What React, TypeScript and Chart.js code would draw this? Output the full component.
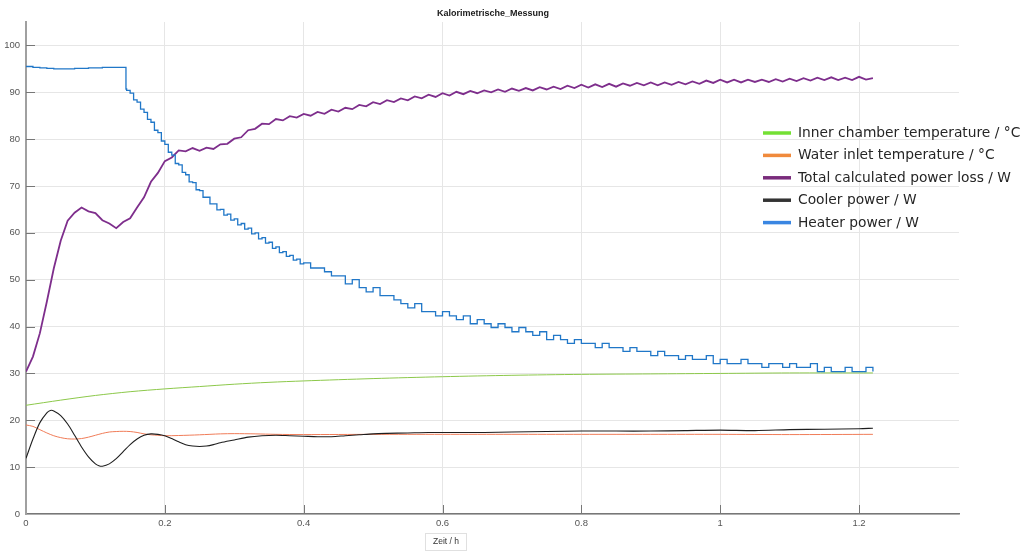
import React, { useEffect, useRef } from 'react';
import { Chart, registerables } from 'chart.js';

Chart.register(...registerables);

const chartTitle = 'Kalorimetrische_Messung';
const xAxisLabel = 'Zeit / h';

const seriesLabels = [
  'Inner chamber temperature / °C',
  'Water inlet temperature / °C',
  'Total calculated power loss / W',
  'Cooler power / W',
  'Heater power / W',
];
const lineColors = ['#8cc84a', '#f07c58', '#7e2e8c', '#1e1e1e', '#2077c8'];
const legendColors = ['#74e034', '#f08a3c', '#7a2c7c', '#333333', '#3a86e2'];

const xTicks = [0, 0.2, 0.4, 0.6, 0.8, 1, 1.2];
const yTicks = [0, 10, 20, 30, 40, 50, 60, 70, 80, 90, 100];

// Inner chamber temperature
const innerT = [0, 0.05, 0.1, 0.15, 0.2, 0.25, 0.3, 0.35, 0.4, 0.5, 0.6, 0.7, 0.8, 0.9, 1.0, 1.1, 1.22];
const innerV = [23.2, 24.3, 25.3, 26.1, 26.7, 27.2, 27.7, 28.1, 28.4, 28.9, 29.3, 29.6, 29.8, 29.9, 30.0, 30.1, 30.1];

// Water inlet temperature
const waterT = [0, 0.01, 0.02, 0.03, 0.04, 0.05, 0.06, 0.07, 0.08, 0.09, 0.1, 0.11, 0.12, 0.13, 0.14, 0.15, 0.16, 0.17, 0.18, 0.19, 0.2, 0.22, 0.25, 0.28, 0.3, 0.33, 0.36, 0.4, 0.5, 0.6, 0.7, 0.8, 0.9, 1.0, 1.1, 1.22];
const waterV = [19.0, 18.7, 18.0, 17.3, 16.7, 16.3, 16.05, 16.0, 16.1, 16.4, 16.8, 17.2, 17.5, 17.6, 17.65, 17.6, 17.4, 17.1, 16.9, 16.8, 16.7, 16.75, 16.9, 17.1, 17.15, 17.1, 17.0, 16.95, 17.0, 17.0, 17.0, 17.0, 17.0, 17.0, 16.95, 17.0];

// Cooler power
const coolerT = [0, 0.01, 0.02, 0.03, 0.035, 0.04, 0.05, 0.06, 0.07, 0.08, 0.09, 0.1, 0.105, 0.11, 0.12, 0.13, 0.14, 0.15, 0.16, 0.17, 0.18, 0.19, 0.2, 0.21, 0.22, 0.23, 0.24, 0.25, 0.26, 0.27, 0.28, 0.3, 0.32, 0.34, 0.36, 0.38, 0.4, 0.42, 0.44, 0.46, 0.48, 0.5, 0.52, 0.55, 0.58, 0.62, 0.66, 0.7, 0.75, 0.8, 0.85, 0.9, 0.95, 1.0, 1.05, 1.1, 1.15, 1.2, 1.22];
const coolerV = [11.9, 16.0, 19.5, 21.6, 22.1, 22.0, 21.0, 19.2, 16.8, 14.3, 12.2, 10.7, 10.3, 10.2, 10.7, 11.8, 13.3, 14.8, 16.0, 16.8, 17.1, 17.0, 16.7, 16.1, 15.4, 14.8, 14.5, 14.4, 14.5, 14.8, 15.2, 15.8, 16.4, 16.7, 16.8, 16.7, 16.6, 16.5, 16.5, 16.7, 16.9, 17.1, 17.2, 17.3, 17.4, 17.4, 17.4, 17.5, 17.6, 17.7, 17.7, 17.7, 17.8, 17.9, 17.8, 18.0, 18.1, 18.2, 18.3];

// Total calculated power loss
const lossT = [0, 0.01, 0.02, 0.03, 0.04, 0.05, 0.06, 0.07, 0.08, 0.09, 0.1, 0.11, 0.12, 0.13, 0.14, 0.15, 0.16, 0.17, 0.18, 0.19, 0.2, 0.21, 0.22, 0.23, 0.24, 0.25, 0.26, 0.27, 0.28, 0.29, 0.3, 0.31, 0.32, 0.33, 0.34, 0.35, 0.36, 0.37, 0.38, 0.39, 0.4, 0.41, 0.42, 0.43, 0.44, 0.45, 0.46, 0.47, 0.48, 0.49, 0.5, 0.51, 0.52, 0.53, 0.54, 0.55, 0.56, 0.57, 0.58, 0.59, 0.6, 0.61, 0.62, 0.63, 0.64, 0.65, 0.66, 0.67, 0.68, 0.69, 0.7, 0.71, 0.72, 0.73, 0.74, 0.75, 0.76, 0.77, 0.78, 0.79, 0.8, 0.81, 0.82, 0.83, 0.84, 0.85, 0.86, 0.87, 0.88, 0.89, 0.9, 0.91, 0.92, 0.93, 0.94, 0.95, 0.96, 0.97, 0.98, 0.99, 1.0, 1.01, 1.02, 1.03, 1.04, 1.05, 1.06, 1.07, 1.08, 1.09, 1.1, 1.11, 1.12, 1.13, 1.14, 1.15, 1.16, 1.17, 1.18, 1.19, 1.2, 1.21, 1.22];
const lossV = [30.4, 33.6, 38.6, 45.3, 52.4, 58.3, 62.6, 64.3, 65.4, 64.6, 64.2, 62.7, 62.0, 61.0, 62.3, 63.1, 65.4, 67.6, 70.9, 72.8, 75.3, 76.1, 77.6, 77.4, 78.1, 77.5, 78.2, 77.9, 78.9, 79.0, 80.1, 80.4, 81.9, 82.2, 83.3, 83.2, 84.3, 84.0, 84.9, 84.6, 85.4, 85.0, 85.8, 85.4, 86.3, 85.9, 86.7, 86.4, 87.3, 87.0, 87.9, 87.5, 88.3, 87.9, 88.7, 88.3, 89.1, 88.7, 89.5, 89.0, 89.8, 89.3, 90.1, 89.6, 90.3, 89.8, 90.4, 90.0, 90.6, 90.1, 90.8, 90.3, 90.9, 90.4, 91.1, 90.6, 91.2, 90.7, 91.4, 90.9, 91.6, 91.0, 91.7, 91.1, 91.8, 91.2, 91.9, 91.4, 92.0, 91.5, 92.1, 91.5, 92.1, 91.6, 92.2, 91.7, 92.3, 91.8, 92.5, 92.0, 92.7, 92.1, 92.7, 92.1, 92.7, 92.2, 92.7, 92.2, 92.8, 92.3, 92.9, 92.4, 93.0, 92.5, 93.1, 92.6, 93.2, 92.6, 93.1, 92.6, 93.3, 92.7, 93.0];

// Heater power
const heaterT = [
  0, 0.01, 0.02, 0.03, 0.04, 0.05, 0.06, 0.07, 0.08, 0.09, 0.1, 0.11, 0.12, 0.13, 0.14, 0.143, 0.144,
  0.145, 0.15, 0.155, 0.16, 0.165, 0.17, 0.175, 0.18, 0.185, 0.19, 0.195, 0.2, 0.205, 0.21, 0.215, 0.22, 0.225, 0.23, 0.235, 0.24, 0.245, 0.25,
  0.255, 0.26, 0.265, 0.27, 0.275, 0.28, 0.285, 0.29, 0.295, 0.3, 0.305, 0.31, 0.315, 0.32, 0.325, 0.33, 0.335, 0.34, 0.345, 0.35,
  0.355, 0.36, 0.365, 0.37, 0.375, 0.38, 0.385, 0.39, 0.395, 0.4,
  0.41, 0.42, 0.43, 0.44, 0.45, 0.46, 0.47, 0.48, 0.49, 0.5, 0.51, 0.52, 0.53, 0.54, 0.55, 0.56, 0.57, 0.58, 0.59, 0.6,
  0.61, 0.62, 0.63, 0.64, 0.65, 0.66, 0.67, 0.68, 0.69, 0.7, 0.71, 0.72, 0.73, 0.74, 0.75, 0.76, 0.77, 0.78, 0.79, 0.8,
  0.81, 0.82, 0.83, 0.84, 0.85, 0.86, 0.87, 0.88, 0.89, 0.9, 0.91, 0.92, 0.93, 0.94, 0.95, 0.96, 0.97, 0.98, 0.99, 1.0,
  1.01, 1.02, 1.03, 1.04, 1.05, 1.06, 1.07, 1.08, 1.09, 1.1, 1.11, 1.12, 1.13, 1.14, 1.15, 1.16, 1.17, 1.18, 1.19, 1.2, 1.21, 1.22,
];
const heaterV = [
  95.5, 95.3, 95.2, 95.1, 95.0, 95.0, 95.0, 95.1, 95.1, 95.2, 95.2, 95.3, 95.3, 95.3, 95.3, 95.3, 90.7,
  90.4, 89.8, 88.4, 87.9, 86.4, 85.7, 84.2, 83.6, 81.9, 81.4, 79.6, 78.9, 77.2, 76.6, 74.8, 74.5, 72.9, 72.4, 70.9, 70.7, 69.2, 69.0,
  67.6, 67.6, 66.2, 66.2, 64.9, 65.0, 63.8, 64.0, 62.7, 63.0, 61.7, 62.0, 60.8, 61.0, 59.8, 60.0, 58.7, 59.0, 57.8, 58.0,
  56.7, 57.0, 55.8, 56.0, 55.0, 55.2, 54.2, 54.4, 53.4, 53.6,
  52.5, 52.5, 51.7, 50.8, 50.8, 49.1, 50.0, 48.3, 47.4, 48.3, 46.6, 46.6, 45.7, 44.9, 44.0, 44.9, 43.2, 43.2, 42.3, 43.2,
  42.3, 41.5, 42.3, 40.6, 41.5, 40.6, 39.8, 40.6, 39.8, 38.9, 39.8, 38.9, 38.1, 38.9, 37.2, 38.1, 37.2, 36.4, 37.2, 36.4,
  36.4, 35.5, 36.4, 35.5, 35.5, 34.7, 35.5, 34.7, 34.7, 33.8, 34.7, 33.8, 33.8, 33.0, 33.8, 33.0, 33.0, 33.8, 32.1, 33.0,
  32.1, 32.1, 33.0, 32.1, 32.1, 31.3, 32.1, 32.1, 31.3, 32.1, 31.3, 31.3, 32.1, 30.4, 31.3, 30.4, 30.4, 31.3, 30.4, 30.4, 31.3, 30.4,
];

const toPoints = (t: number[], v: number[]) => t.map((x, i) => ({ x, y: v[i] }));

const TICK_FONT = { family: '"Liberation Sans", Arial, sans-serif', size: 9.5 };

const overlayPlugin = {
  id: 'overlay',
  afterDraw(chart: any) {
    const { ctx, chartArea, scales } = chart;
    ctx.save();
    // inner tick marks
    ctx.strokeStyle = '#777';
    ctx.lineWidth = 1;
    scales.y.ticks.forEach((t: any) => {
      if (t.value === 0) return;
      const py = Math.round(scales.y.getPixelForValue(t.value)) + 0.5;
      ctx.beginPath();
      ctx.moveTo(chartArea.left, py);
      ctx.lineTo(chartArea.left + 9, py);
      ctx.stroke();
    });
    scales.x.ticks.forEach((t: any) => {
      if (t.value === 0) return;
      const px = Math.round(scales.x.getPixelForValue(t.value)) + 0.5;
      ctx.beginPath();
      ctx.moveTo(px, chartArea.bottom);
      ctx.lineTo(px, chartArea.bottom - 9);
      ctx.stroke();
    });
    // title
    ctx.fillStyle = '#1a1a1a';
    ctx.font = 'bold 9px "Liberation Sans", Arial, sans-serif';
    ctx.textAlign = 'center';
    ctx.textBaseline = 'middle';
    ctx.fillText(chartTitle, 493, 14);
    // x axis label box
    ctx.fillStyle = '#ffffff';
    ctx.fillRect(425.5, 533.5, 41, 17);
    ctx.strokeStyle = '#e0e0e0';
    ctx.strokeRect(425.5, 533.5, 41, 17);
    ctx.fillStyle = '#333';
    ctx.font = '8.5px "Liberation Sans", Arial, sans-serif';
    ctx.fillText(xAxisLabel, 446, 542);
    // legend
    ctx.textAlign = 'left';
    ctx.font = '13.8px "DejaVu Sans", Verdana, sans-serif';
    chart.data.datasets.forEach((ds: any, i: number) => {
      const y = 133 + i * 22.4;
      ctx.strokeStyle = legendColors[i];
      ctx.lineWidth = 3.5;
      ctx.beginPath();
      ctx.moveTo(763, y);
      ctx.lineTo(791, y);
      ctx.stroke();
      ctx.fillStyle = '#262626';
      ctx.fillText(ds.label, 798, y + 0.5);
    });
    ctx.restore();
  },
};

export default function App() {
  const ref = useRef<HTMLCanvasElement>(null);
  useEffect(() => {
    document.body.style.margin = '0';
    const canvas = ref.current!;
    const series = [
      toPoints(innerT, innerV),
      toPoints(waterT, waterV),
      toPoints(lossT, lossV),
      toPoints(coolerT, coolerV),
      toPoints(heaterT, heaterV),
    ];
    const orders = [4, 3, 2, 1, 0];
    const widths = [1, 1, 1.8, 1.1, 1.3];
    const chart = new Chart(canvas, {
      type: 'line',
      data: {
        datasets: series.map((data, i) => ({
          label: seriesLabels[i],
          data,
          borderColor: lineColors[i],
          backgroundColor: lineColors[i],
          borderWidth: widths[i],
          pointRadius: 0,
          fill: false,
          tension: i === 2 || i === 4 ? 0 : 0.3,
          stepped: i === 4 ? 'before' : false,
          order: orders[i],
        })) as any,
      },
      options: {
        responsive: false,
        animation: false,
        devicePixelRatio: 1,
        layout: { padding: { top: 22, right: 68, left: 0, bottom: 0 } },
        plugins: {
          legend: { display: false },
          tooltip: { enabled: false },
          title: { display: false },
        },
        scales: {
          x: {
            type: 'linear',
            min: 0,
            max: 1.344,
            afterBuildTicks: (s: any) => {
              s.ticks = xTicks.map((v) => ({ value: v }));
            },
            afterFit: (s: any) => {
              s.height = 37;
            },
            ticks: {
              callback: (v: any) => String(Math.round(Number(v) * 10) / 10),
              font: TICK_FONT,
              color: '#555',
              padding: 4,
              maxRotation: 0,
              autoSkip: false,
            },
            grid: { color: '#e6e6e6', drawTicks: false },
            border: { color: '#777', width: 1.5 },
          },
          y: {
            min: 0,
            max: 105,
            afterBuildTicks: (s: any) => {
              s.ticks = yTicks.map((v) => ({ value: v }));
            },
            afterFit: (s: any) => {
              s.width = 26;
            },
            ticks: {
              font: TICK_FONT,
              color: '#555',
              padding: 6,
              autoSkip: false,
            },
            grid: { color: '#e6e6e6', drawTicks: false },
            border: { color: '#a0a0a0', width: 2 },
          },
        },
      } as any,
      plugins: [overlayPlugin],
    });
    return () => chart.destroy();
  }, []);
  return (
    <div style={{ width: 1027, height: 551 }}>
      <canvas ref={ref} width={1027} height={551} style={{ display: 'block' }} />
    </div>
  );
}
